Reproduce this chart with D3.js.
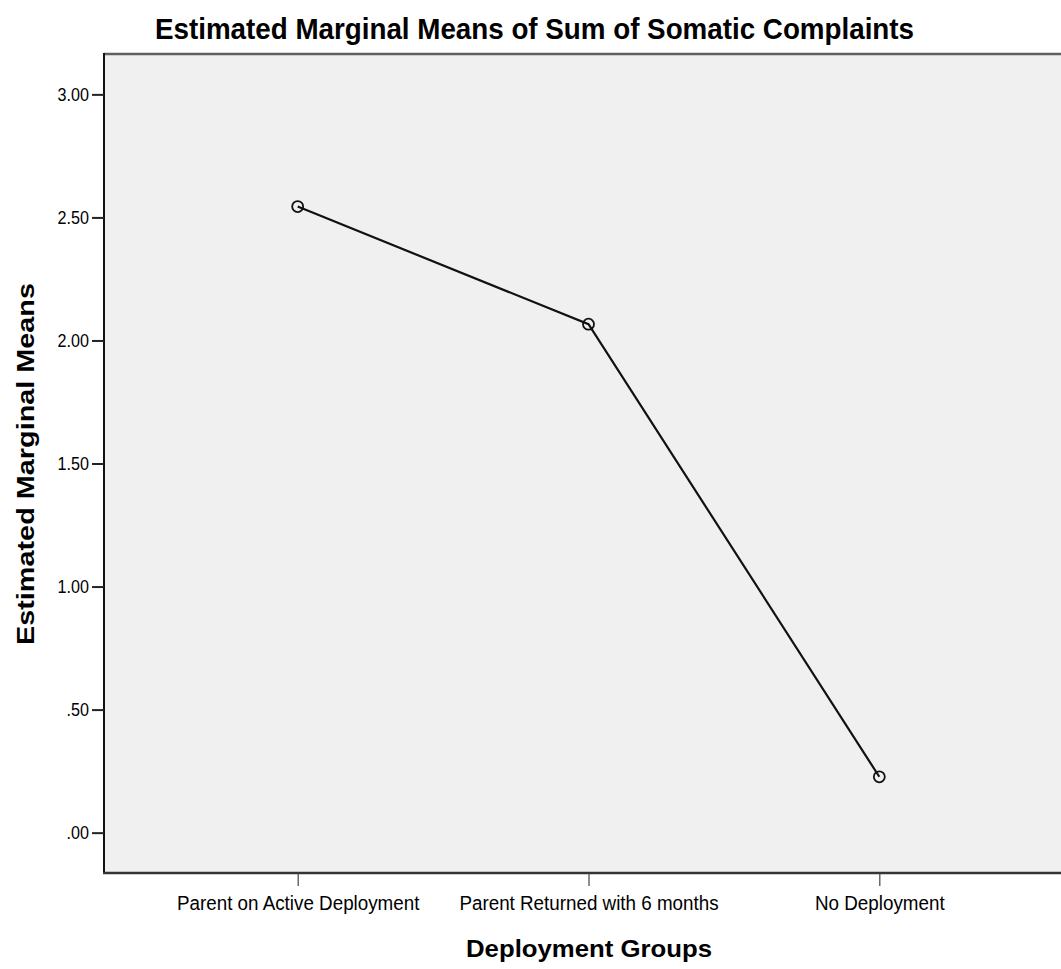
<!DOCTYPE html>
<html>
<head>
<meta charset="utf-8">
<script src="https://cdn.jsdelivr.net/npm/d3@7"></script>
<style>
  html, body { margin: 0; padding: 0; background: #ffffff; }
  svg { display: block; }
  text { font-family: "Liberation Sans", Arial, sans-serif; fill: #000; }
</style>
</head>
<body>
<script>
// ---- data ----
const categories = ["Parent on Active Deployment", "Parent Returned with 6 months", "No Deployment"];
const means = [2.544, 2.066, 0.227];
const yTickValues = [0, 0.5, 1, 1.5, 2, 2.5, 3];
const yTickLabels = [".00", ".50", "1.00", "1.50", "2.00", "2.50", "3.00"];
const titleText = "Estimated Marginal Means of Sum of Somatic Complaints";
const xTitle = "Deployment Groups";
const yTitle = "Estimated Marginal Means";

// ---- layout ----
const W = 1061, H = 969;
const plot = { left: 104, right: 1073, top: 55, bottom: 873 };

const svg = d3.select("body").append("svg").attr("width", W).attr("height", H);

const x = d3.scalePoint().domain(categories).range([plot.left, plot.right]).padding(0.666);
const y = d3.scaleLinear().domain([-0.164, 3.16]).range([plot.bottom, plot.top]);

// plot background
svg.append("rect")
  .attr("x", plot.left).attr("y", plot.top)
  .attr("width", plot.right - plot.left).attr("height", plot.bottom - plot.top)
  .attr("fill", "#f0f0f0");

// top border
svg.append("line")
  .attr("x1", plot.left).attr("x2", plot.right)
  .attr("y1", plot.top - 1).attr("y2", plot.top - 1)
  .attr("stroke", "#606060").attr("stroke-width", 2.5);

// y axis
const yAxis = d3.axisLeft(y).tickValues(yTickValues)
  .tickFormat((d, i) => yTickLabels[i]).tickSize(12).tickPadding(3);
const gy = svg.append("g").attr("transform", `translate(${plot.left},0)`).call(yAxis);
gy.select(".domain").attr("stroke", "#111").attr("stroke-width", 2)
  .attr("d", `M0,${plot.top - 2}V${plot.bottom}`);
gy.selectAll(".tick line").attr("stroke", "#222").attr("stroke-width", 2);
gy.selectAll(".tick text").attr("font-size", 19).attr("fill", "#111")
  .attr("font-family", "'Liberation Sans', Arial, sans-serif")
  .attr("textLength", function () { return this.getComputedTextLength() * 0.85; })
  .attr("lengthAdjust", "spacingAndGlyphs");

// x axis
const xAxis = d3.axisBottom(x).tickSize(13).tickPadding(10);
const gx = svg.append("g").attr("transform", `translate(0,${plot.bottom})`).call(xAxis);
gx.select(".domain").attr("stroke", "#333").attr("stroke-width", 2.5)
  .attr("d", `M${plot.left - 1},0H${plot.right}`);
gx.selectAll(".tick line").attr("stroke", "#444").attr("stroke-width", 1.2);
gx.selectAll(".tick text").attr("font-size", 20).attr("fill", "#111")
  .attr("font-family", "'Liberation Sans', Arial, sans-serif")
  .attr("textLength", function () { return this.getComputedTextLength() * 0.94; })
  .attr("lengthAdjust", "spacingAndGlyphs");

// line
const line = d3.line().x((d, i) => x(categories[i])).y(d => y(d));
svg.append("path").datum(means)
  .attr("d", line)
  .attr("fill", "none").attr("stroke", "#111").attr("stroke-width", 2.2);

// markers
svg.selectAll("circle.pt").data(means).enter().append("circle")
  .attr("class", "pt")
  .attr("cx", (d, i) => x(categories[i])).attr("cy", d => y(d))
  .attr("r", 5.5)
  .attr("fill", "none").attr("stroke", "#111").attr("stroke-width", 1.8);

// title
svg.append("text")
  .attr("x", 534.5).attr("y", 39)
  .attr("text-anchor", "middle")
  .attr("font-size", 30).attr("font-weight", "bold")
  .attr("textLength", 759).attr("lengthAdjust", "spacingAndGlyphs")
  .text(titleText);

// x axis title
svg.append("text")
  .attr("x", 589).attr("y", 957)
  .attr("text-anchor", "middle")
  .attr("font-size", 24.5).attr("font-weight", "bold")
  .attr("textLength", 246).attr("lengthAdjust", "spacingAndGlyphs")
  .text(xTitle);

// y axis title
svg.append("text")
  .attr("transform", "translate(34,464) rotate(-90)")
  .attr("text-anchor", "middle")
  .attr("font-size", 23).attr("font-weight", "bold")
  .attr("textLength", 362).attr("lengthAdjust", "spacingAndGlyphs")
  .text(yTitle);
</script>
</body>
</html>
